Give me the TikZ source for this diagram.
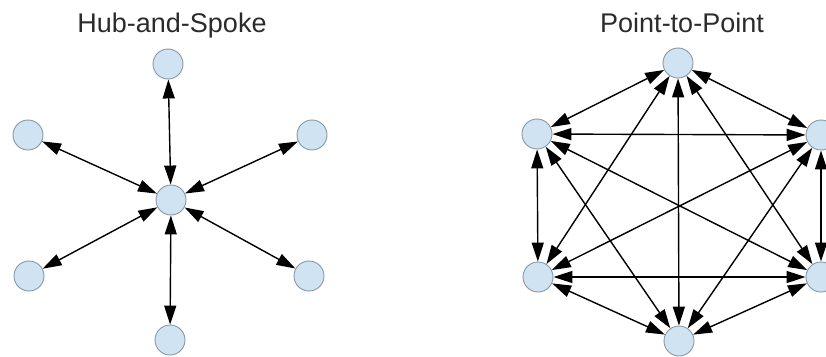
\documentclass[tikz,border=0pt]{standalone}
\usepackage{fontspec}
\setmainfont{Liberation Sans}
\usetikzlibrary{arrows.meta}
\definecolor{nodeblue}{HTML}{CFE3F2}
\definecolor{nodeedge}{HTML}{8797A3}
\definecolor{titlegray}{HTML}{2B2B2B}
\tikzset{
  site/.style={circle, minimum size=30pt, inner sep=0pt, fill=nodeblue, draw=nodeedge, line width=0.9pt},
  link/.style={{Triangle[length=19pt 0 0,width=12pt 0 0]}-{Triangle[length=19pt 0 0,width=12pt 0 0]}, line width=1.4pt, black},
  heading/.style={anchor=base, font=\fontsize{27}{30}\selectfont, text=titlegray}
}
\begin{document}
\begin{tikzpicture}[x=1pt, y=-1pt]
\useasboundingbox (0,0) rectangle (826,356);
% hub and spoke
\node[heading] (hubtitle) at (172,32) {Hub-and-Spoke};
\node[site] (hub) at (171,200) {};
\node[site] (s1) at (168,64) {};
\node[site] (s2) at (312,135) {};
\node[site] (s3) at (309,276) {};
\node[site] (s4) at (170,340) {};
\node[site] (s5) at (29,276) {};
\node[site] (s6) at (28,135) {};
\foreach \s in {s1,s2,s3,s4,s5,s6}
  \draw[link] (hub) -- (\s);
% point to point
\node[heading] (ptptitle) at (682,32) {Point-to-Point};
\node[site] (p1) at (678,63) {};
\node[site] (p2) at (821,135) {};
\node[site] (p3) at (821,277) {};
\node[site] (p4) at (679,341) {};
\node[site] (p5) at (538,277) {};
\node[site] (p6) at (537,134) {};
\foreach \a/\b in {p1/p2,p1/p3,p1/p4,p1/p5,p1/p6,
                   p2/p3,p2/p4,p2/p5,p2/p6,
                   p3/p4,p3/p5,p3/p6,
                   p4/p5,p4/p6,p5/p6}
  \draw[link] (\a) -- (\b);
\end{tikzpicture}
\end{document}
